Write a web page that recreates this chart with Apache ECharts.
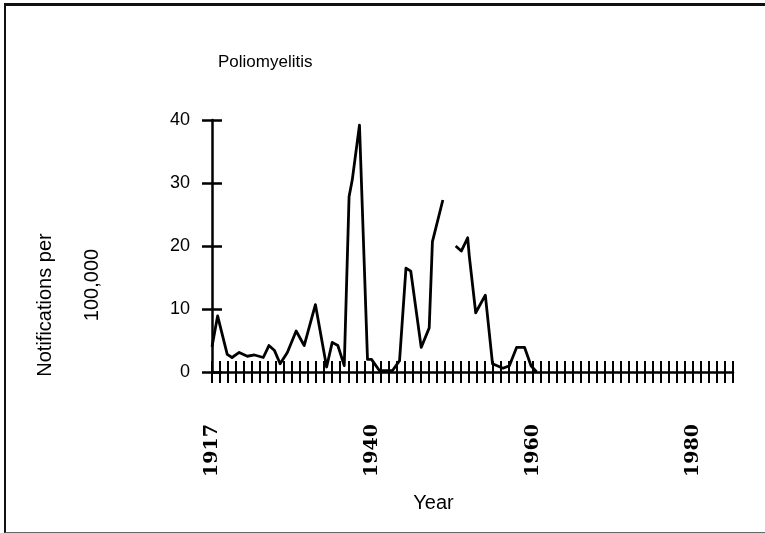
<!DOCTYPE html>
<html>
<head>
<meta charset="utf-8">
<title>Poliomyelitis</title>
<script type="text/javascript" src="https://cdn.jsdelivr.net/npm/echarts@6/dist/echarts.min.js"></script>
<style type="text/css">
html, body {
	margin: 0;
	padding: 0;
	background: #fff;
}
#main {
	position: absolute;
	left: 0;
	top: 0;
	width: 765px;
	height: 533px;
}
/* scanned page frame */
.frame {
	position: absolute;
	left: 4px;
	top: 3px;
	width: 761px;
	height: 526px;
	border-top: 3px solid #111;
	border-left: 2px solid #111;
	border-bottom: 1px solid #666;
	pointer-events: none;
}
</style>
</head>
<body>
<div id="main"></div>
<div class="frame"></div>

<script type="text/javascript">

// notifications per 100,000 (year, rate); null = gap in the trace
var years = [1920.0, 1920.7, 1921.9, 1922.5, 1923.4, 1924.4, 1925.3, 1926.4, 1927.1, 1927.8,
	1928.5, 1929.4, 1930.5, 1931.5, 1932.9, 1934.3, 1935.0, 1935.7, 1936.5, 1937.1,
	1937.5, 1938.4, 1939.4, 1939.9, 1940.9, 1942.5, 1943.4, 1944.2, 1944.8, 1946.1,
	1947.1, 1947.5, 1948.8, 1949.6, 1950.4, 1951.1, 1951.9, 1952.1, 1952.9, 1954.1,
	1955.0, 1956.3, 1957.1, 1958.0, 1959.0, 1959.8, 1960.5];
var rates = [4.0, 8.9, 2.8, 2.3, 3.1, 2.5, 2.7, 2.3, 4.2, 3.4,
	1.3, 3.1, 6.5, 4.2, 10.7, 0.8, 4.7, 4.2, 1.0, 27.8,
	30.5, 39.2, 2.0, 2.0, 0.2, 0.2, 1.8, 16.5, 16.0, 3.9,
	7.0, 20.7, 27.3, null, 20.0, 19.2, 21.3, 18.4, 9.4, 12.2,
	1.3, 0.6, 1.0, 3.9, 3.9, 1.0, 0.0];

// x tick labels as printed on the figure and where they sit
var tickYears = [1920, 1940, 1960, 1980];
var tickLabels = ['1917', '1940', '1960', '1980'];

var chart = echarts.init(document.getElementById('main'), null, {renderer: 'canvas'});

var points = [];
for (var i = 0; i < years.length; i++) {
	points.push([years[i], rates[i]]);
}

var black = '#000';
var sans = '"Liberation Sans", Arial, sans-serif';

var option = {
	backgroundColor: 'transparent',
	animation: false,
	title: {
		text: 'Poliomyelitis',
		left: 213,
		top: 49,
		textStyle: {
			fontFamily: sans,
			fontSize: 17,
			fontWeight: 'normal',
			color: black
		}
	},
	grid: {
		left: 212,
		right: 32,
		top: 120,
		bottom: 161
	},
	xAxis: [
		{
			type: 'value',
			position: 'bottom',
			min: 1920,
			max: 1985,
			interval: 1,
			name: 'Year',
			nameLocation: 'middle',
			nameGap: 121,
			nameTextStyle: {
				fontFamily: sans,
				fontSize: 20,
				color: black,
				padding: [0, 78, 0, 0]
			},
			splitLine: {show: false},
			axisLine: {lineStyle: {color: black, width: 2.5}},
			axisTick: {length: 11, lineStyle: {color: black, width: 2}},
			axisLabel: {
				rotate: 90,
				align: 'left',
				margin: 105,
				fontFamily: '"DejaVu Serif", serif',
				fontWeight: 'bold',
				fontSize: 19,
				color: black,
				formatter: function (v) {
					var k = tickYears.indexOf(v);
					return k >= 0 ? tickLabels[k] : '';
				}
			}
		},
		{
			// second copy only to draw the tick halves above the line
			type: 'value',
			position: 'bottom',
			offset: 0,
			min: 1920,
			max: 1985,
			interval: 1,
			splitLine: {show: false},
			axisLine: {show: false},
			axisLabel: {show: false},
			axisTick: {inside: true, length: 11, lineStyle: {color: black, width: 2}}
		}
	],
	yAxis: [
		{
			type: 'value',
			min: 0,
			max: 40,
			interval: 10,
			name: '{a|Notifications per}\n{b|100,000}',
			nameLocation: 'middle',
			nameRotate: 90,
			nameGap: 96,
			nameTextStyle: {
				fontFamily: sans,
				fontSize: 20,
				lineHeight: 47,
				color: black,
				padding: [0, 98, 0, 0],
				rich: {
					a: {fontFamily: sans, fontSize: 20, lineHeight: 47, color: black, padding: [0, 20, 0, 0]},
					b: {fontFamily: sans, fontSize: 20, lineHeight: 47, color: black, padding: [0, 0, 0, 20]}
				}
			},
			splitLine: {show: false},
			axisLine: {show: true, lineStyle: {color: black, width: 2.5}},
			axisTick: {show: true, length: 10, lineStyle: {color: black, width: 2.5}},
			axisLabel: {
				margin: 22,
				fontFamily: sans,
				fontSize: 18,
				color: black
			}
		},
		{
			type: 'value',
			position: 'left',
			offset: 0,
			min: 0,
			max: 40,
			interval: 10,
			splitLine: {show: false},
			axisLine: {show: false},
			axisLabel: {show: false},
			axisTick: {show: true, inside: true, length: 10, lineStyle: {color: black, width: 2.5}}
		}
	],
	series: [
		{
			type: 'line',
			xAxisIndex: 0,
			yAxisIndex: 0,
			data: points,
			showSymbol: false,
			connectNulls: false,
			lineStyle: {color: black, width: 2.8, join: 'round'},
			itemStyle: {color: black}
		}
	]
};

chart.setOption(option);
</script>
</body>
</html>
